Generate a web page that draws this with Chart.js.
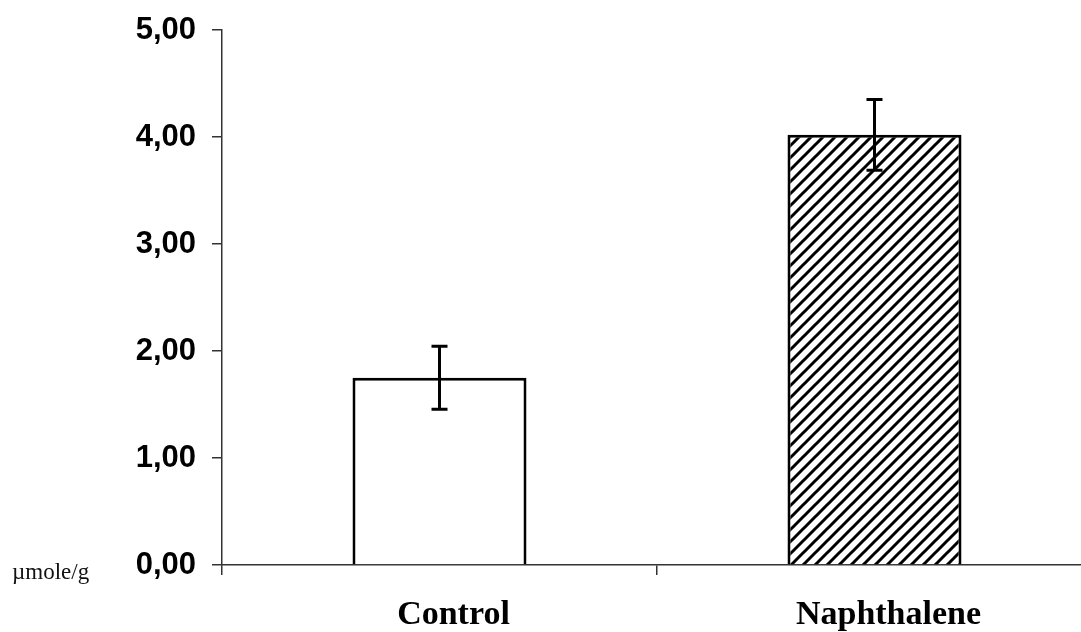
<!DOCTYPE html>
<html>
<head>
<meta charset="utf-8">
<script src="https://cdn.jsdelivr.net/npm/chart.js@4.4.1/dist/chart.umd.min.js"></script>
<style>
  html, body { margin: 0; padding: 0; background: #fff; overflow: hidden; }
  #wrap { position: relative; width: 1100px; height: 632px; }
  #unit { position: absolute; left: 12px; top: 559px; font: 23px "Liberation Serif", "Times New Roman", serif; color: #111; }
</style>
</head>
<body>
<div id="wrap">
  <canvas id="chart" width="1100" height="632"></canvas>
  <div id="unit">µmole/g</div>
</div>
<script>
// data
const categories = ["Control", "Naphthalene"];
const means = [1.75, 4.02];
const errors = [0.295, 0.33];
const yTicks = [0, 1, 2, 3, 4, 5];

// diagonal hatch for the second bar
function makeHatch() {
  const s = 12;
  const c = document.createElement("canvas");
  c.width = s; c.height = s;
  const g = c.getContext("2d");
  g.fillStyle = "#fff";
  g.fillRect(0, 0, s, s);
  g.strokeStyle = "#000";
  g.lineWidth = 3;
  g.beginPath();
  g.moveTo(-2, s + 2); g.lineTo(s + 2, -2);
  g.moveTo(-2, 2); g.lineTo(2, -2);
  g.moveTo(s - 2, s + 2); g.lineTo(s + 2, s - 2);
  g.stroke();
  return g.createPattern(c, "repeat");
}

const ctx = document.getElementById("chart").getContext("2d");

// error bars drawn through the y scale
const errorBars = {
  id: "errorBars",
  afterDatasetsDraw(chart) {
    const c = chart.ctx;
    const y = chart.scales.y;
    const meta = chart.getDatasetMeta(0);
    c.save();
    c.strokeStyle = "#000";
    c.lineWidth = 3;
    meta.data.forEach((bar, i) => {
      const x = bar.x;
      const top = y.getPixelForValue(means[i] + errors[i]);
      const bot = y.getPixelForValue(means[i] - errors[i]);
      c.beginPath();
      c.moveTo(x, top); c.lineTo(x, bot);
      c.moveTo(x - 8, top); c.lineTo(x + 8, top);
      c.moveTo(x - 8, bot); c.lineTo(x + 8, bot);
      c.stroke();
    });
    c.restore();
  }
};

new Chart(ctx, {
  type: "bar",
  data: {
    labels: categories,
    datasets: [{
      data: means,
      backgroundColor: ["#fff", makeHatch()],
      borderColor: "#000",
      borderWidth: 3,
      barPercentage: 0.4,
      categoryPercentage: 1
    }]
  },
  options: {
    responsive: false,
    animation: false,
    layout: { padding: { top: 30, right: 8, left: 0, bottom: 0 } },
    plugins: { legend: { display: false }, tooltip: { enabled: false } },
    scales: {
      x: {
        grid: { drawOnChartArea: false, drawTicks: true, tickLength: 10, color: "#333", lineWidth: 1.5 },
        border: { color: "#333", width: 1.5 },
        ticks: {
          color: "#000",
          padding: 20,
          labelOffset: 14,
          font: { family: "'Liberation Serif', 'Times New Roman', serif", size: 34, weight: "bold" }
        },
        afterFit(scale) {
          scale.height = 67;
          scale.paddingLeft = 0; scale.paddingRight = 0;
        }
      },
      y: {
        min: 0,
        max: 5,
        afterBuildTicks(scale) { scale.ticks = yTicks.map(v => ({ value: v })); },
        grid: { drawOnChartArea: false, drawTicks: true, tickLength: 10, color: "#333", lineWidth: 1.5 },
        border: { color: "#333", width: 1.5 },
        ticks: {
          color: "#000",
          padding: 16,
          font: { family: "'Liberation Sans', Arial, sans-serif", size: 31, weight: "bold" },
          callback: v => v.toFixed(2).replace(".", ",")
        },
        afterFit(scale) {
          scale.width = 222;
          scale.paddingTop = 0; scale.paddingBottom = 0;
        }
      }
    }
  },
  plugins: [errorBars]
});
</script>
</body>
</html>
